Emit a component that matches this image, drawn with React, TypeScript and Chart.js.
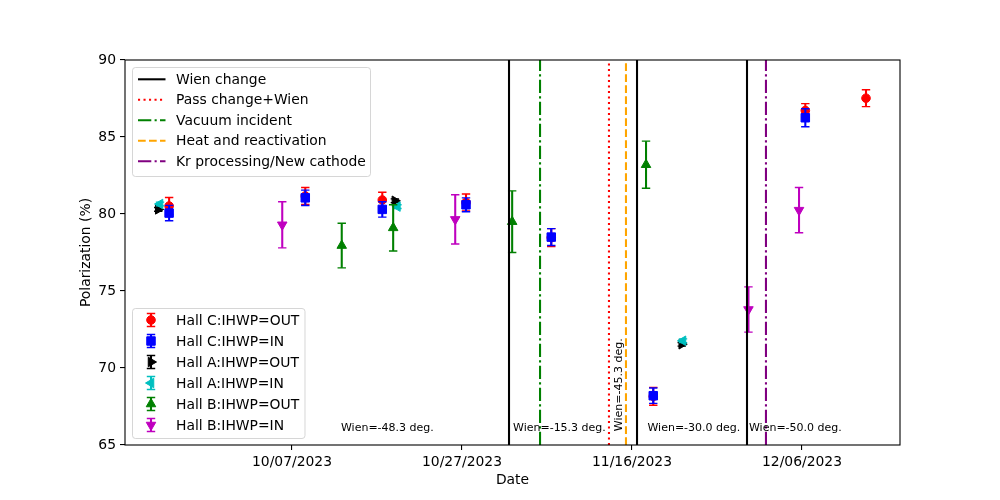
import React, { useEffect, useRef } from "react";
import { Chart, registerables } from "chart.js";
import { drawPoint } from "chart.js/helpers";

Chart.register(...registerables);

// x values are days after 2023-10-07
const xTickDays = [0, 20, 40, 60];
const yMin = 65;
const yMax = 90;
const yStep = 5;
const xMinDay = -19.65;
const xMaxDay = 71.53;

const hallCOutDays = [-14.46, 1.56, 10.62, 20.47, 30.5, 42.5, 60.39, 67.53];
const hallCOutPol = [80.52, 81.17, 80.91, 80.75, 78.47, 68.16, 86.72, 87.52];
const hallCOutErr = [0.55, 0.55, 0.5, 0.55, 0.58, 0.58, 0.45, 0.55];

const hallCInDays = [-14.46, 1.56, 10.62, 20.47, 30.5, 42.5, 60.39];
const hallCInPol = [80.06, 81.05, 80.3, 80.6, 78.5, 68.2, 86.25];
const hallCInErr = [0.5, 0.5, 0.5, 0.45, 0.55, 0.5, 0.58];

const hallAOutDays = [-15.74, 12.1, 45.85];
const hallAOutPol = [80.3, 80.86, 71.54];
const hallAOutErr = [0.12, 0.12, 0.12];

const hallAInDays = [-15.53, 12.4, 46.0];
const hallAInPol = [80.65, 80.48, 71.77];
const hallAInErr = [0.12, 0.12, 0.12];

const hallBOutDays = [5.85, 11.9, 25.9, 41.65];
const hallBOutPol = [77.95, 79.1, 79.5, 83.2];
const hallBOutErr = [1.45, 1.5, 2.0, 1.53];

const hallBInDays = [-1.15, 19.2, 53.7, 59.65];
const hallBInPol = [79.3, 79.65, 73.8, 80.25];
const hallBInErr = [1.5, 1.6, 1.47, 1.47];

const wienChangeDays = [25.53, 40.59, 53.53];
const passChangeDays = [37.29];
const vacuumDays = [29.18];
const heatDays = [39.29];
const krDays = [55.76];

const wienLabels = ["Wien=-48.3 deg.", "Wien=-15.3 deg.", "Wien=-30.0 deg.", "Wien=-50.0 deg."];
const wienLabelDays = [5.76, 26.0, 41.82, 53.76];
const wienLabelPol = 65.9;
const rotatedLabel = "Wien=-45.3 deg.";
const rotatedLabelDay = 38.8;

const FONT = "'DejaVu Sans', sans-serif";
const DAY0 = Date.UTC(2023, 9, 7);

function fmtDay(d: number): string {
  const dt = new Date(DAY0 + Math.round(d) * 86400000);
  const mm = String(dt.getUTCMonth() + 1).padStart(2, "0");
  const dd = String(dt.getUTCDate()).padStart(2, "0");
  return `${mm}/${dd}/${dt.getUTCFullYear()}`;
}

type Series = {
  label: string;
  days: number[];
  pol: number[];
  err: number[];
  color: string;
  style: string;
  rotation: number;
  radius: number;
};

const series: Series[] = [
  { label: "Hall C:IHWP=OUT", days: hallCOutDays, pol: hallCOutPol, err: hallCOutErr, color: "#ff0000", style: "circle", rotation: 0, radius: 4.3 },
  { label: "Hall C:IHWP=IN", days: hallCInDays, pol: hallCInPol, err: hallCInErr, color: "#0000ff", style: "rect", rotation: 0, radius: 6.0 },
  { label: "Hall A:IHWP=OUT", days: hallAOutDays, pol: hallAOutPol, err: hallAOutErr, color: "#000000", style: "triangle", rotation: 90, radius: 5.5 },
  { label: "Hall A:IHWP=IN", days: hallAInDays, pol: hallAInPol, err: hallAInErr, color: "#00bfbf", style: "triangle", rotation: 270, radius: 5.5 },
  { label: "Hall B:IHWP=OUT", days: hallBOutDays, pol: hallBOutPol, err: hallBOutErr, color: "#008000", style: "triangle", rotation: 0, radius: 5.5 },
  { label: "Hall B:IHWP=IN", days: hallBInDays, pol: hallBInPol, err: hallBInErr, color: "#bf00bf", style: "triangle", rotation: 180, radius: 5.5 },
];

const DOTTED = [2.1, 3.4];
const DASHED = [7.7, 3.3];
const DASHDOT = [13.3, 3.3, 2.1, 3.3];

type VLine = { label: string; days: number[]; color: string; dash: number[] };
const vlines: VLine[] = [
  { label: "Wien change", days: wienChangeDays, color: "#000000", dash: [] },
  { label: "Pass change+Wien", days: passChangeDays, color: "#ff0000", dash: DOTTED },
  { label: "Vacuum incident", days: vacuumDays, color: "#008000", dash: DASHDOT },
  { label: "Heat and reactivation", days: heatDays, color: "#ffa500", dash: DASHED },
  { label: "Kr processing/New cathode", days: krDays, color: "#800080", dash: DASHDOT },
];

function drawErrBar(ctx: CanvasRenderingContext2D, px: number, y1: number, y2: number, color: string) {
  ctx.save();
  ctx.strokeStyle = color;
  ctx.setLineDash([]);
  ctx.lineCap = "butt";
  ctx.lineWidth = 2.08;
  ctx.beginPath();
  ctx.moveTo(px, y1);
  ctx.lineTo(px, y2);
  ctx.stroke();
  ctx.lineWidth = 1.4;
  ctx.beginPath();
  ctx.moveTo(px - 4.2, y1);
  ctx.lineTo(px + 4.2, y1);
  ctx.moveTo(px - 4.2, y2);
  ctx.lineTo(px + 4.2, y2);
  ctx.stroke();
  ctx.restore();
}

function drawMarker(ctx: CanvasRenderingContext2D, s: Series, x: number, y: number) {
  ctx.save();
  ctx.fillStyle = s.color;
  ctx.strokeStyle = s.color;
  ctx.lineWidth = 1;
  ctx.setLineDash([]);
  drawPoint(ctx, { pointStyle: s.style as any, rotation: s.rotation, radius: s.radius, borderWidth: 1 } as any, x, y);
  ctx.restore();
}

function legendBox(ctx: CanvasRenderingContext2D, x: number, y: number, w: number, h: number) {
  ctx.save();
  ctx.globalAlpha = 0.8;
  ctx.fillStyle = "#ffffff";
  ctx.strokeStyle = "#cccccc";
  ctx.lineWidth = 1;
  ctx.beginPath();
  (ctx as any).roundRect(x, y, w, h, 3);
  ctx.fill();
  ctx.stroke();
  ctx.restore();
}

const overlay = {
  id: "overlay",
  beforeDatasetDraw(chart: any, args: any) {
    const s = series[args.index];
    if (!s) return;
    const ctx: CanvasRenderingContext2D = chart.ctx;
    const xs = chart.scales.x;
    const ys = chart.scales.y;
    for (let i = 0; i < s.days.length; i++) {
      const px = xs.getPixelForValue(s.days[i]);
      drawErrBar(ctx, px, ys.getPixelForValue(s.pol[i] + s.err[i]), ys.getPixelForValue(s.pol[i] - s.err[i]), s.color);
    }
  },
  afterDraw(chart: any) {
    const ctx: CanvasRenderingContext2D = chart.ctx;
    const a = chart.chartArea;
    const xs = chart.scales.x;
    const ys = chart.scales.y;

    // frame
    ctx.save();
    ctx.strokeStyle = "#000";
    ctx.lineWidth = 1.1;
    ctx.setLineDash([]);
    ctx.strokeRect(a.left, a.top, a.right - a.left, a.bottom - a.top);
    ctx.restore();

    // annotations
    ctx.save();
    ctx.fillStyle = "#000";
    ctx.font = `11px ${FONT}`;
    ctx.textAlign = "left";
    ctx.textBaseline = "alphabetic";
    for (let i = 0; i < wienLabels.length; i++) {
      ctx.fillText(wienLabels[i], xs.getPixelForValue(wienLabelDays[i]), ys.getPixelForValue(wienLabelPol));
    }
    ctx.translate(xs.getPixelForValue(rotatedLabelDay), ys.getPixelForValue(wienLabelPol));
    ctx.rotate(-Math.PI / 2);
    ctx.fillText(rotatedLabel, 0, 0);
    ctx.restore();

    // legend 1 (lines)
    legendBox(ctx, 132.5, 67.5, 238, 109);
    ctx.save();
    ctx.font = `13.9px ${FONT}`;
    ctx.textBaseline = "middle";
    ctx.textAlign = "left";
    vlines.forEach((v, i) => {
      const y = 79.3 + i * 20.5;
      ctx.strokeStyle = v.color;
      ctx.lineWidth = 2.08;
      ctx.lineCap = "butt";
      ctx.setLineDash(v.dash);
      ctx.beginPath();
      ctx.moveTo(138, y);
      ctx.lineTo(165.5, y);
      ctx.stroke();
      ctx.fillStyle = "#000";
      ctx.fillText(v.label, 176, y + 1);
    });
    ctx.restore();

    // legend 2 (series)
    legendBox(ctx, 132.5, 308.5, 172.5, 130);
    ctx.save();
    ctx.font = `13.9px ${FONT}`;
    ctx.textBaseline = "middle";
    ctx.textAlign = "left";
    series.forEach((s, i) => {
      const y = 320 + i * 21;
      drawErrBar(ctx, 151, y - 6.5, y + 6.5, s.color);
      drawMarker(ctx, s, 151, y);
      ctx.fillStyle = "#000";
      ctx.fillText(s.label, 176, y + 1);
    });
    ctx.restore();

    // axis titles
    ctx.save();
    ctx.fillStyle = "#000";
    ctx.font = `13.9px ${FONT}`;
    ctx.textAlign = "center";
    ctx.textBaseline = "middle";
    ctx.fillText("Date", (a.left + a.right) / 2, 480);
    ctx.translate(86, (a.top + a.bottom) / 2);
    ctx.rotate(-Math.PI / 2);
    ctx.fillText("Polarization (%)", 0, 0);
    ctx.restore();
  },
};

export default function App() {
  const ref = useRef<HTMLCanvasElement | null>(null);

  useEffect(() => {
    document.body.style.margin = "0";
    const canvas = ref.current;
    if (!canvas) return;

    const dataDatasets = series.map((s, i) => ({
      label: s.label,
      data: s.days.map((d, j) => ({ x: d, y: s.pol[j] })),
      showLine: false,
      pointStyle: s.style,
      pointRotation: s.rotation,
      pointRadius: s.radius,
      pointHoverRadius: s.radius,
      pointBorderWidth: 1,
      backgroundColor: s.color,
      borderColor: s.color,
      order: 20 - i,
    }));

    const lineDatasets = vlines.flatMap((v) =>
      v.days.map((d) => ({
        label: v.label,
        data: [
          { x: d, y: yMin },
          { x: d, y: yMax },
        ],
        showLine: true,
        pointRadius: 0,
        borderColor: v.color,
        backgroundColor: v.color,
        borderWidth: 2.08,
        borderDash: v.dash,
        borderCapStyle: "butt",
        order: 1,
      }))
    );

    const chart = new Chart(canvas, {
      type: "scatter",
      data: { datasets: [...dataDatasets, ...lineDatasets] as any },
      options: {
        responsive: false,
        animation: false,
        devicePixelRatio: 1,
        layout: { padding: { left: 0, top: 60, right: 100, bottom: 0 } },
        plugins: { legend: { display: false }, tooltip: { enabled: false } },
        scales: {
          x: {
            type: "linear",
            min: xMinDay,
            max: xMaxDay,
            afterBuildTicks: (scale: any) => {
              scale.ticks = xTickDays.map((v) => ({ value: v }));
            },
            afterFit: (scale: any) => {
              scale.height = 55;
            },
            border: { display: false },
            grid: { display: true, drawOnChartArea: false, drawTicks: true, tickLength: 5, color: "#000", lineWidth: 1.1 },
            ticks: {
              color: "#000",
              font: { family: FONT, size: 13.9 },
              padding: 4,
              maxRotation: 0,
              autoSkip: false,
              callback: (v: any) => fmtDay(Number(v)),
            },
          },
          y: {
            type: "linear",
            min: yMin,
            max: yMax,
            afterFit: (scale: any) => {
              scale.width = 125;
            },
            border: { display: false },
            grid: { display: true, drawOnChartArea: false, drawTicks: true, tickLength: 5, color: "#000", lineWidth: 1.1 },
            ticks: {
              stepSize: yStep,
              color: "#000",
              font: { family: FONT, size: 13.9 },
              padding: 4,
            },
          },
        },
      },
      plugins: [overlay as any],
    });

    return () => chart.destroy();
  }, []);

  return (
    <div style={{ width: 1000, height: 500, position: "relative" }}>
      <canvas ref={ref} width={1000} height={500} style={{ width: 1000, height: 500, display: "block" }} />
    </div>
  );
}
